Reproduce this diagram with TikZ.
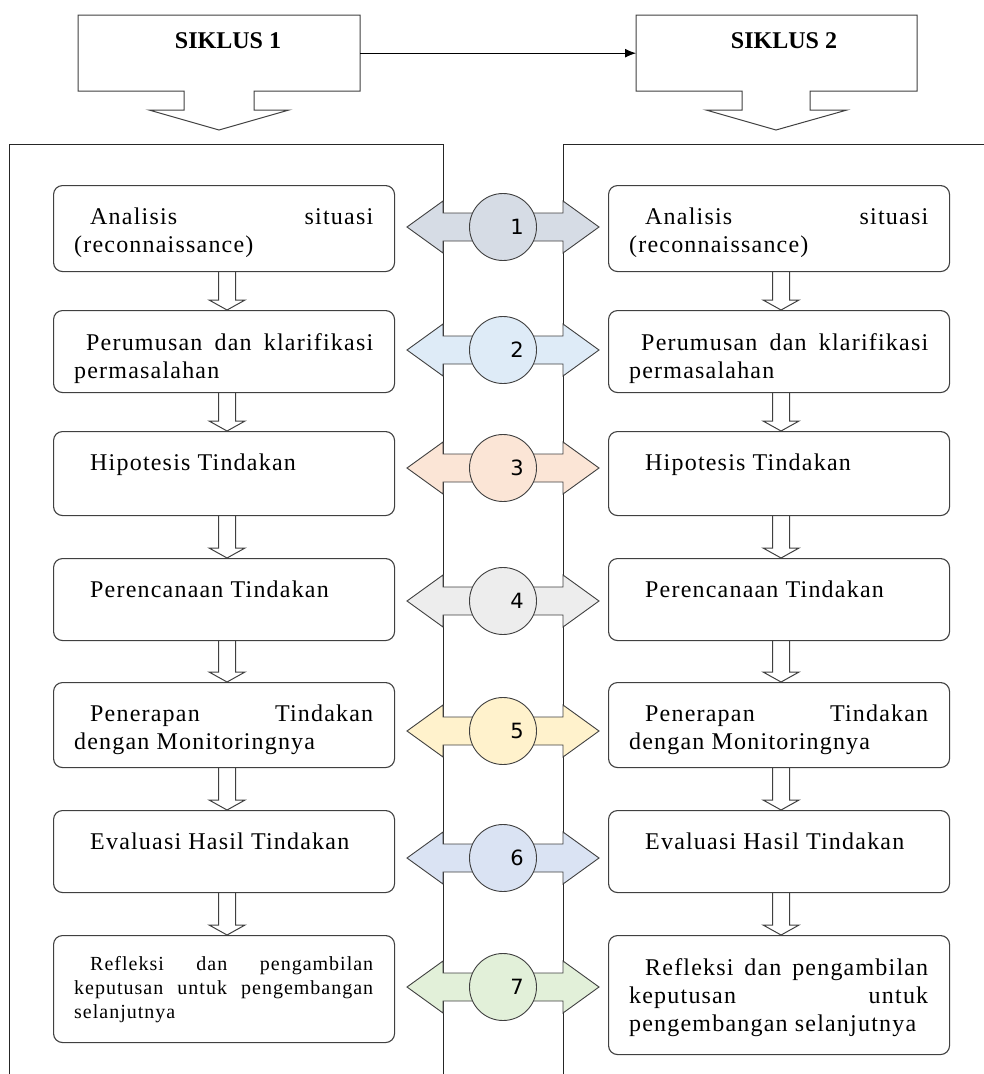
\documentclass[tikz,border=0pt]{standalone}
\usepackage{fontspec}
\setmainfont{Liberation Serif}
\newfontfamily\bodyfont{Liberation Serif}[LetterSpace=5]
\newfontfamily\numfont{DejaVu Sans}
\usetikzlibrary{calc,arrows.meta}
\hyphenpenalty=10000
\exhyphenpenalty=10000
\tolerance=9999
\definecolor{colA}{HTML}{D6DCE5}
\definecolor{colB}{HTML}{DEEBF7}
\definecolor{colC}{HTML}{FBE5D6}
\definecolor{colD}{HTML}{EDEDED}
\definecolor{colE}{HTML}{FFF2CC}
\definecolor{colF}{HTML}{DAE3F3}
\definecolor{colG}{HTML}{E2F0D9}
\definecolor{edge}{HTML}{404040}
\tikzset{
  frame/.style={draw=black!85, line width=0.9pt},
  callout/.style={draw=edge, line width=1pt, fill=white},
  box/.style={draw=edge, line width=1.1pt, rounded corners=9pt, minimum width=341pt, anchor=north west, inner sep=0pt},
  txt/.style={anchor=north west, inner sep=0pt, text width=299pt, align=justify, font=\fontsize{24pt}{28pt}\selectfont\bodyfont},
  smalltxt/.style={txt, font=\fontsize{20pt}{24pt}\selectfont\bodyfont},
  blk/.style={draw=edge, line width=1pt},
  dbl/.style={draw=edge, line width=0.9pt},
  num/.style={circle, draw=edge, line width=0.9pt, minimum size=67pt, inner sep=0pt, font=\fontsize{21pt}{24pt}\selectfont\numfont},
  head/.style={font=\bfseries\fontsize{24pt}{28pt}\selectfont, inner sep=0pt, anchor=base},
  anchorbox/.style={minimum height=76pt, inner sep=0pt, anchor=north west},
}
\newcommand\downarr[3]{%
  \draw[blk] let \p1=(#1.south), \p2=(#2.north) in
    (\x1+#3-8.5pt,\y1) -- (\x1+#3-8.5pt,\y2+10pt) -- (\x1+#3-18pt,\y2+10pt) -- (\x1+#3,\y2)
    -- (\x1+#3+18pt,\y2+10pt) -- (\x1+#3+8.5pt,\y2+10pt) -- (\x1+#3+8.5pt,\y1);}
\newcommand\twoway[2]{%
  \draw[dbl,fill=#2] let \p1=(#1) in
    (\x1-96pt,\y1) -- (\x1-60pt,\y1+26pt) -- (\x1-60pt,\y1+14pt) -- (\x1+60pt,\y1+14pt)
    -- (\x1+60pt,\y1+26pt) -- (\x1+96pt,\y1) -- (\x1+60pt,\y1-26pt) -- (\x1+60pt,\y1-14pt)
    -- (\x1-60pt,\y1-14pt) -- (\x1-60pt,\y1-26pt) -- cycle;}
\begin{document}
\begin{tikzpicture}[x=1pt,y=-1pt]
\useasboundingbox (0,0) rectangle (984,1074);
% frames
\draw[frame] (9,1074) -- (9,144) -- (443,144) -- (443,1074);
\draw[frame] (984,144) -- (563,144) -- (563,1074);
% callouts
\draw[callout] (78,15) -- (360,15) -- (360,91) -- (254,91) -- (254,110) -- (289,110) -- (219,130)
  -- (149,110) -- (184,110) -- (184,91) -- (78,91) -- cycle;
\draw[callout] (636,15) -- (917,15) -- (917,91) -- (810,91) -- (810,110) -- (847,110) -- (776,130)
  -- (706,110) -- (742,110) -- (742,91) -- (636,91) -- cycle;
\node[anchorbox, minimum width=282pt] (k1) at (78,15) {};
\node[anchorbox, minimum width=281pt] (k2) at (636,15) {};
\node[head] (h1) at (228,48) {SIKLUS 1};
\node[head] (h2) at (784,48) {SIKLUS 2};
\draw[line width=1pt, -{Latex[length=11pt,width=9pt]}] (k1.east) -- (k2.west);
% left boxes
\node[box, minimum height=86pt] (L1) at (53,185) {};
\node[box, minimum height=82pt] (L2) at (53,310) {};
\node[box, minimum height=84pt] (L3) at (53,431) {};
\node[box, minimum height=82pt] (L4) at (53,558) {};
\node[box, minimum height=85pt] (L5) at (53,682) {};
\node[box, minimum height=82pt] (L6) at (53,810) {};
\node[box, minimum height=107pt] (L7) at (53,935) {};
% right boxes
\node[box, minimum height=86pt] (R1) at (608,185) {};
\node[box, minimum height=82pt] (R2) at (608,310) {};
\node[box, minimum height=84pt] (R3) at (608,431) {};
\node[box, minimum height=82pt] (R4) at (608,558) {};
\node[box, minimum height=85pt] (R5) at (608,682) {};
\node[box, minimum height=82pt] (R6) at (608,810) {};
\node[box, minimum height=119pt] (R7) at (608,935) {};
% texts
\foreach \s in {L,R}{
  \node[txt] (\s t1) at ([xshift=21pt,yshift=-23pt]\s1.north west) {\noindent\hspace*{16pt}Analisis situasi\linebreak (reconnaissance)};
  \node[txt] (\s t2) at ([xshift=21pt,yshift=-23pt]\s2.north west) {\noindent\hspace*{12pt}Perumusan dan klarifikasi\linebreak permasalahan};
  \node[txt] (\s t3) at ([xshift=21pt,yshift=-23pt]\s3.north west) {\noindent\hspace*{16pt}Hipotesis Tindakan};
  \node[txt] (\s t4) at ([xshift=21pt,yshift=-23pt]\s4.north west) {\noindent\hspace*{16pt}Perencanaan Tindakan};
  \node[txt] (\s t5) at ([xshift=21pt,yshift=-23pt]\s5.north west) {\noindent\hspace*{16pt}Penerapan Tindakan\linebreak dengan Monitoringnya};
  \node[txt] (\s t6) at ([xshift=21pt,yshift=-23pt]\s6.north west) {\noindent\hspace*{16pt}Evaluasi Hasil Tindakan};
}
\node[smalltxt] (Lt7) at ([xshift=21pt,yshift=-21pt]L7.north west) {\noindent\hspace*{16pt}Refleksi dan pengambilan\linebreak keputusan untuk pengembangan\linebreak selanjutnya};
\node[txt] (Rt7) at ([xshift=21pt,yshift=-23pt]R7.north west) {\noindent\hspace*{16pt}Refleksi dan pengambilan\linebreak keputusan untuk\linebreak pengembangan selanjutnya};
% down arrows
\downarr{L1}{L2}{3pt}\downarr{L2}{L3}{3pt}\downarr{L3}{L4}{3pt}\downarr{L4}{L5}{3pt}\downarr{L5}{L6}{3pt}\downarr{L6}{L7}{3pt}
\downarr{R1}{R2}{2pt}\downarr{R2}{R3}{2pt}\downarr{R3}{R4}{2pt}\downarr{R4}{R5}{2pt}\downarr{R5}{R6}{2pt}\downarr{R6}{R7}{2pt}
% middle double arrows with circles
\coordinate (m1) at (503,227);
\coordinate (m2) at (503,350);
\coordinate (m3) at (503,468);
\coordinate (m4) at (503,601);
\coordinate (m5) at (503,731);
\coordinate (m6) at (503,858);
\coordinate (m7) at (503,987);
\twoway{m1}{colA}\node[num, fill=colA] (c1) at (m1) {\hspace*{28pt}1};
\twoway{m2}{colB}\node[num, fill=colB] (c2) at (m2) {\hspace*{28pt}2};
\twoway{m3}{colC}\node[num, fill=colC] (c3) at (m3) {\hspace*{28pt}3};
\twoway{m4}{colD}\node[num, fill=colD] (c4) at (m4) {\hspace*{28pt}4};
\twoway{m5}{colE}\node[num, fill=colE] (c5) at (m5) {\hspace*{28pt}5};
\twoway{m6}{colF}\node[num, fill=colF] (c6) at (m6) {\hspace*{28pt}6};
\twoway{m7}{colG}\node[num, fill=colG] (c7) at (m7) {\hspace*{28pt}7};
\end{tikzpicture}
\end{document}
